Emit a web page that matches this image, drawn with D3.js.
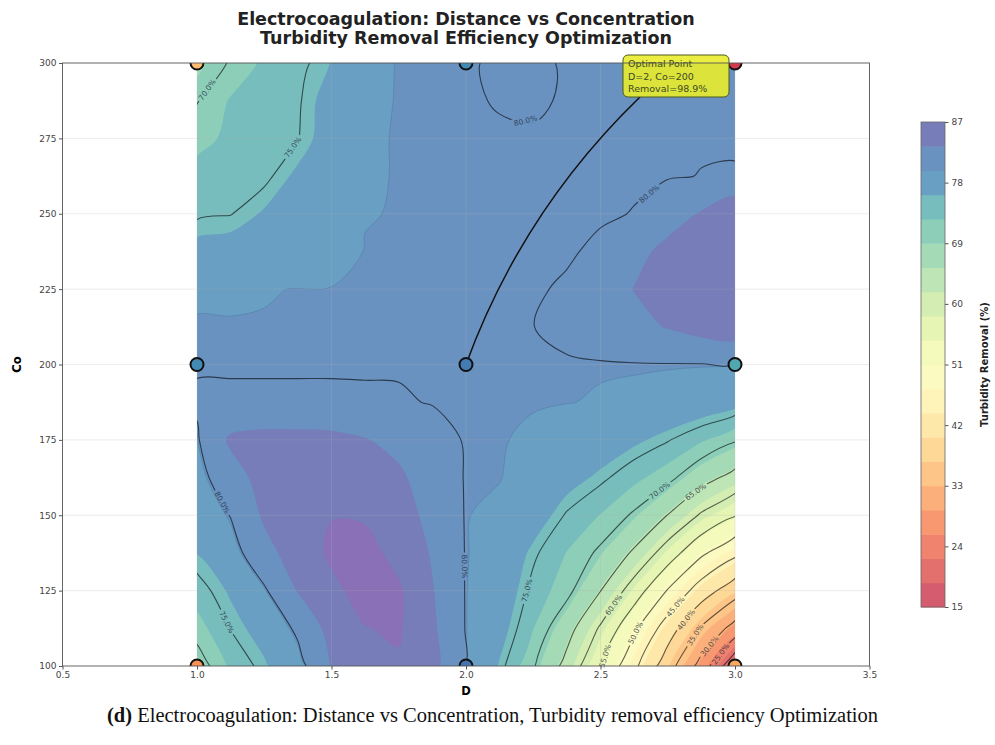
<!DOCTYPE html>
<html>
<head>
<meta charset="utf-8">
<script src="https://cdn.jsdelivr.net/npm/d3@7"></script>
<style>
  body { margin: 0; background: #fff; }
  svg { display: block; font-family: "DejaVu Sans", sans-serif; }
</style>
</head>
<body>
<div id="chart"></div>
<script>
// grid of the response surface
const distanceD = [1.0, 1.125, 1.25, 1.375, 1.5, 1.625, 1.75, 1.875, 2.0, 2.125, 2.25, 2.375, 2.5, 2.625, 2.75, 2.875, 3.0];
const concCo = [100, 112.5, 125, 137.5, 150, 162.5, 175, 187.5, 200, 212.5, 225, 237.5, 250, 262.5, 275, 287.5, 300];
// one row per Co value (bottom to top), one column per D value
const removal = [
  [68.0, 73.2, 75.8, 78.8, 83.6, 86.5, 86.6, 84.5, 79.85, 75.9, 70.4, 63.4, 55.0, 46.1, 37.1, 28.2, 15.5],
  [71.5, 75.1, 77.5, 80.6, 84.6, 86.9, 87.4, 84.0, 79.85, 77.5, 72.7, 66.9, 59.4, 50.9, 42.5, 34.5, 28.2],
  [73.9, 76.6, 79.6, 83.6, 86.2, 88.3, 87.5, 83.6, 79.85, 78.5, 74.2, 71.1, 65.1, 57.6, 49.7, 42.5, 37.1],
  [76.3, 78.7, 82.3, 85.0, 87.6, 88.2, 85.9, 83.1, 79.85, 79.3, 75.5, 72.5, 69.3, 64.3, 57.6, 50.9, 46.1],
  [78.0, 80.1, 83.9, 85.8, 86.9, 86.6, 85.2, 82.2, 79.85, 79.5, 78.0, 74.7, 72.5, 69.5, 64.9, 59.4, 55.3],
  [79.0, 81.8, 84.8, 85.5, 85.6, 85.0, 84.0, 81.6, 79.85, 79.85, 79.2, 77.5, 75.6, 73.4, 71.1, 66.9, 63.4],
  [79.7, 84.0, 84.6, 84.6, 84.4, 83.6, 82.4, 81.0, 79.82, 79.82, 79.75, 79.3, 78.3, 76.8, 75.2, 73.0, 70.4],
  [80.3, 80.3, 80.3, 80.3, 80.3, 80.25, 80.2, 79.9, 79.82, 79.82, 79.82, 79.82, 79.75, 79.6, 79.2, 78.5, 77.5],
  [79.82, 79.82, 79.82, 79.82, 79.82, 79.82, 79.82, 79.82, 79.82, 79.82, 79.82, 79.82, 79.85, 79.88, 79.9, 79.9, 79.9],
  [79.85, 79.82, 79.82, 79.82, 79.82, 79.82, 79.82, 79.82, 79.82, 79.82, 79.98, 80.5, 81.3, 82.4, 83.6, 84.8, 85.5],
  [79.7, 79.75, 79.78, 79.81, 79.82, 79.82, 79.82, 79.82, 79.82, 79.82, 79.82, 80.2, 81.8, 83.5, 85.0, 85.9, 86.5],
  [77.2, 77.6, 78.3, 79.0, 79.5, 79.82, 79.82, 79.82, 79.82, 79.82, 79.82, 79.82, 80.3, 82.3, 84.4, 85.8, 86.8],
  [74.6, 74.9, 76.5, 78.2, 79.2, 79.78, 79.82, 79.82, 79.82, 79.82, 79.82, 79.82, 79.82, 80.05, 81.8, 83.7, 86.45],
  [73.3, 73.7, 74.4, 76.8, 78.8, 79.75, 79.82, 79.82, 79.82, 79.82, 79.82, 79.82, 79.82, 79.82, 79.82, 80.05, 80.1],
  [72.0, 73.0, 74.0, 74.9, 77.8, 79.75, 79.82, 79.82, 79.82, 79.82, 79.82, 79.82, 79.82, 79.82, 79.82, 79.82, 79.85],
  [69.8, 72.9, 74.0, 74.7, 77.5, 79.7, 79.82, 79.82, 79.82, 80.1, 80.25, 79.82, 79.82, 79.82, 79.82, 79.82, 79.85],
  [68.5, 70.2, 73.2, 74.3, 76.3, 79.4, 79.85, 79.82, 79.82, 80.25, 80.35, 79.82, 79.82, 79.82, 79.82, 79.82, 79.85]
];

const fillLevels = [15, 18.6, 22.2, 25.8, 29.4, 33, 36.6, 40.2, 43.8, 47.4, 51, 54.6, 58.2, 61.8, 65.4, 69, 72.6, 76.2, 79.8, 83.4, 87];
const lineLevels = [20, 25, 30, 35, 40, 45, 50, 55, 60, 65, 70, 75, 80];
const cbTicks = [15, 24, 33, 42, 51, 60, 69, 78, 87];
const xTicks = [0.5, 1.0, 1.5, 2.0, 2.5, 3.0, 3.5];
const yTicks = [100, 125, 150, 175, 200, 225, 250, 275, 300];

// design points and the colour of their markers
const designD = [1, 1, 1, 2, 2, 2, 3, 3, 3];
const designCo = [100, 200, 300, 100, 200, 300, 100, 200, 300];
const designRemoval = [30, 79, 36, 82, 81, 79, 33, 75, 18];

// where the inline contour labels sit (level, D, Co)
const labelSpots = [
  [70, 1.04, 291], [75, 1.357, 272], [80, 2.21, 277], [80, 2.695, 255],
  [80, 1.11, 155], [75, 1.12, 115], [80, 1.97, 133], [75, 2.23, 125],
  [70, 2.73, 157], [65, 2.87, 156], [60, 2.56, 119.6], [55, 2.5, 104],
  [50, 2.63, 111], [45, 2.78, 119.6], [40, 2.83, 114.6], [35, 2.84, 111],
  [30, 2.88, 108.6], [25, 2.93, 105.3]
];

const optimum = { D: 2, Co: 200, text: ["Optimal Point", "D=2, Co=200", "Removal=98.9%"] };

const W = 995, H = 745;
const svg = d3.select("#chart").append("svg").attr("width", W).attr("height", H);

const x = d3.scaleLinear().domain([0.5, 3.5]).range([62.5, 869.5]);
const y = d3.scaleLinear().domain([100, 300]).range([666, 63]);

const nx = distanceD.length, ny = concCo.length;
const dStep = distanceD[1] - distanceD[0], cStep = concCo[1] - concCo[0];
const flat = removal.flat();

const mix = (c, a) => d3.interpolateRgb("#ffffff", c)(a);
// position of each band on the Spectral ramp; the band just under the
// plateau is drawn almost like the plateau, as in the source figure
const bandT = i => 0.06 + 0.94 * (i === 17 ? 17.9 : i + 0.5) / 20;
const bandColor = i => i >= 20
  ? mix(d3.interpolateRgb(d3.interpolateSpectral(1), "#8e44ad")(0.3), 0.8)
  : mix(d3.interpolateSpectral(bandT(i)), 0.8);
const pointColor = v => d3.interpolateSpectral(0.06 + 0.94 * Math.max(0, Math.min(1, (v - 15) / 72)));

// grid coordinates -> pixels, with rings drawn as smooth closed curves
const gx = g => x(distanceD[0] + (g - 0.5) * dStep);
const gy = g => y(concCo[0] + (g - 0.5) * cStep);
const smooth = d3.line().curve(d3.curveCatmullRomClosed.alpha(0.5));
const ringPx = ring => ring.slice(0, -1).map(p => [gx(p[0]), gy(p[1])]);
const path = geo => geo.coordinates.map(poly => poly.map(r => smooth(ringPx(r))).join("")).join("");

const defs = svg.append("defs");
defs.append("clipPath").attr("id", "plotClip")
  .append("rect")
  .attr("x", x(1)).attr("y", y(300))
  .attr("width", x(3) - x(1)).attr("height", y(100) - y(300));
defs.append("clipPath").attr("id", "axesClip")
  .append("rect")
  .attr("x", x(0.5)).attr("y", y(300))
  .attr("width", x(3.5) - x(0.5)).attr("height", y(100) - y(300));

// filled contours
const bands = d3.contours().size([nx, ny]).thresholds(fillLevels)(flat);
const fillG = svg.append("g").attr("clip-path", "url(#plotClip)");
fillG.append("rect")
  .attr("x", x(1)).attr("y", y(300)).attr("width", x(3) - x(1)).attr("height", y(100) - y(300))
  .attr("fill", bandColor(0));
fillG.selectAll("path.band")
  .data(bands)
  .join("path")
  .attr("class", "band")
  .attr("d", path)
  .attr("fill", (d, i) => bandColor(i))
  .attr("fill-rule", "evenodd")
  .attr("stroke", "#2c4f7c")
  .attr("stroke-opacity", (d, i) => i === 18 ? 0.3 : 0)
  .attr("stroke-width", 0.7);

// grid
const gridG = svg.append("g");
gridG.selectAll("line.gx").data(xTicks.slice(1, -1)).join("line")
  .attr("x1", d => x(d)).attr("x2", d => x(d))
  .attr("y1", y(300)).attr("y2", y(100))
  .attr("stroke", "#b0b0b0").attr("stroke-opacity", 0.3).attr("stroke-width", 0.8);
gridG.selectAll("line.gy").data(yTicks.slice(1, -1)).join("line")
  .attr("x1", x(0.5)).attr("x2", x(3.5))
  .attr("y1", d => y(d)).attr("y2", d => y(d))
  .attr("stroke", "#b0b0b0").attr("stroke-opacity", 0.3).attr("stroke-width", 0.8);

// contour labels first so their size can drive the gaps in the lines
const labelG = svg.append("g");
const mask = defs.append("mask").attr("id", "lblMask").attr("maskUnits", "userSpaceOnUse")
  .attr("x", 0).attr("y", 0).attr("width", W).attr("height", H);
mask.append("rect").attr("width", W).attr("height", H).attr("fill", "#fff");

labelSpots.forEach(([level, d0, c0]) => {
  const geo = d3.contours().size([nx, ny]).thresholds([level])(flat)[0];
  const tx = x(d0), ty = y(c0);
  let best = null;
  geo.coordinates.forEach(poly => poly.forEach(ring => {
    const pts = ringPx(ring);
    pts.forEach((p, k) => {
      if (p[0] < x(1) - 0.5 || p[0] > x(3) + 0.5 || p[1] < y(300) - 0.5 || p[1] > y(100) + 0.5) return;
      const dist = (p[0] - tx) ** 2 + (p[1] - ty) ** 2;
      if (!best || dist < best.dist) best = { dist, pts, k };
    });
  }));
  if (!best) return;
  const { pts, k } = best;
  const a = pts[(k - 1 + pts.length) % pts.length], b = pts[(k + 1) % pts.length];
  // slide the anchor towards the target along the segment it sits on
  let px = pts[k][0], py = pts[k][1];
  [a, b].forEach(q => {
    const vx = q[0] - px, vy = q[1] - py, l2 = vx * vx + vy * vy;
    if (!l2) return;
    const t = Math.max(0, Math.min(1, ((tx - px) * vx + (ty - py) * vy) / l2));
    const cx = px + t * vx, cy = py + t * vy;
    if ((cx - tx) ** 2 + (cy - ty) ** 2 < (px - tx) ** 2 + (py - ty) ** 2) { px = cx; py = cy; }
  });
  let ang = Math.atan2(b[1] - a[1], b[0] - a[0]) * 180 / Math.PI;
  if (ang > 90) ang -= 180;
  if (ang < -90) ang += 180;
  const t = labelG.append("text")
    .attr("transform", `translate(${px},${py}) rotate(${ang})`)
    .attr("text-anchor", "middle").attr("dy", "0.35em")
    .attr("font-size", 7.5).attr("fill", "#1d2b3a").attr("fill-opacity", 0.8)
    .text(level.toFixed(1) + "%");
  const w = t.node().getComputedTextLength() + 4;
  mask.append("rect")
    .attr("x", -w / 2).attr("y", -4.5).attr("width", w).attr("height", 9)
    .attr("transform", `translate(${px},${py}) rotate(${ang})`)
    .attr("fill", "#000");
});

// contour lines
const lines = d3.contours().size([nx, ny]).thresholds(lineLevels)(flat);
svg.insert("g", () => labelG.node())
  .attr("clip-path", "url(#plotClip)")
  .append("g").attr("mask", "url(#lblMask)")
  .selectAll("path").data(lines).join("path")
  .attr("d", path)
  .attr("fill", "none")
  .attr("stroke", "#000").attr("stroke-opacity", 0.6).attr("stroke-width", 1.1);

// annotation arrow and box
const boxX = 623, boxY = 55, boxW = 106, boxH = 42;
const s = [640, boxY + boxH], e = [x(optimum.D), y(optimum.Co)];
const mid = [(s[0] + e[0]) / 2, (s[1] + e[1]) / 2];
const ctrl = [mid[0] - 0.115 * (e[1] - s[1]), mid[1] + 0.115 * (e[0] - s[0])];
svg.append("path")
  .attr("d", `M${s[0]},${s[1]} Q${ctrl[0]},${ctrl[1]} ${e[0]},${e[1]}`)
  .attr("fill", "none").attr("stroke", "#111").attr("stroke-width", 1.5);

// design points (clipped by the axes like the source)
svg.append("g").attr("clip-path", "url(#axesClip)")
  .selectAll("circle")
  .data(designD.map((d, i) => ({ d, c: designCo[i], v: designRemoval[i] })))
  .join("circle")
  .attr("cx", p => x(p.d)).attr("cy", p => y(p.c)).attr("r", 6.5)
  .attr("fill", p => pointColor(p.v))
  .attr("stroke", "#111").attr("stroke-width", 2);

const box = svg.append("g");
box.append("rect")
  .attr("x", boxX).attr("y", boxY).attr("width", boxW).attr("height", boxH)
  .attr("rx", 5).attr("fill", "#e9ec2c").attr("fill-opacity", 0.9)
  .attr("stroke", "#4d5a1e").attr("stroke-width", 1);
box.selectAll("text").data(optimum.text).join("text")
  .attr("x", boxX + 5).attr("y", (d, i) => boxY + 12 + i * 12.5)
  .attr("font-size", 9.5).attr("fill", "#3c4a22")
  .text(d => d);

// axes frame
svg.append("rect")
  .attr("x", x(0.5)).attr("y", y(300)).attr("width", x(3.5) - x(0.5)).attr("height", y(100) - y(300))
  .attr("fill", "none").attr("stroke", "#555").attr("stroke-width", 0.9);

const xAxis = svg.append("g").attr("transform", `translate(0,${y(100)})`)
  .call(d3.axisBottom(x).tickValues(xTicks).tickFormat(d3.format(".1f")).tickSize(3.5).tickPadding(2.5));
const yAxis = svg.append("g").attr("transform", `translate(${x(0.5)},0)`)
  .call(d3.axisLeft(y).tickValues(yTicks).tickSize(3.5).tickPadding(2.5));
[xAxis, yAxis].forEach(g => {
  g.select(".domain").remove();
  g.selectAll("line").attr("stroke", "#555");
  g.selectAll("text").attr("font-size", 9).attr("fill", "#444").attr("font-family", "DejaVu Sans");
});

svg.append("text").attr("x", x(2)).attr("y", 695).attr("text-anchor", "middle")
  .attr("font-weight", "bold").attr("font-size", 11.5).text("D");
svg.append("text").attr("transform", `translate(21,${y(200)}) rotate(-90)`).attr("text-anchor", "middle")
  .attr("font-weight", "bold").attr("font-size", 11.5).text("Co");

// title
svg.append("text").attr("x", x(2)).attr("y", 25).attr("text-anchor", "middle")
  .attr("font-weight", "bold").attr("font-size", 17.5).attr("fill", "#222")
  .text("Electrocoagulation: Distance vs Concentration");
svg.append("text").attr("x", x(2)).attr("y", 44).attr("text-anchor", "middle")
  .attr("font-weight", "bold").attr("font-size", 17.5).attr("fill", "#222")
  .text("Turbidity Removal Efficiency Optimization");

// colour bar
const cb = d3.scaleLinear().domain([15, 87]).range([607, 122]);
const cbG = svg.append("g");
cbG.selectAll("rect").data(d3.pairs(fillLevels)).join("rect")
  .attr("x", 921).attr("width", 24)
  .attr("y", d => cb(d[1])).attr("height", d => cb(d[0]) - cb(d[1]) + 0.5)
  .attr("fill", (d, i) => bandColor(i));
cbG.append("rect").attr("x", 921).attr("y", cb(87)).attr("width", 24).attr("height", cb(15) - cb(87))
  .attr("fill", "none").attr("stroke", "#666").attr("stroke-width", 0.8);
const cbAxis = cbG.append("g").attr("transform", "translate(945,0)")
  .call(d3.axisRight(cb).tickValues(cbTicks).tickSize(3.5).tickPadding(3));
cbAxis.select(".domain").remove();
cbAxis.selectAll("line").attr("stroke", "#555");
cbAxis.selectAll("text").attr("font-size", 9).attr("fill", "#444").attr("font-family", "DejaVu Sans");
svg.append("text").attr("transform", `translate(988,${cb(51)}) rotate(-90)`).attr("text-anchor", "middle")
  .attr("font-weight", "bold").attr("font-size", 10).attr("fill", "#222").text("Turbidity Removal (%)");

// caption
const cap = svg.append("text").attr("x", 107).attr("y", 722)
  .attr("font-family", "Liberation Serif, serif").attr("font-size", 20.5).attr("fill", "#111");
cap.append("tspan").attr("font-weight", "bold").text("(d)");
cap.append("tspan").text(" Electrocoagulation: Distance vs Concentration, Turbidity removal efficiency Optimization");
</script>
</body>
</html>
